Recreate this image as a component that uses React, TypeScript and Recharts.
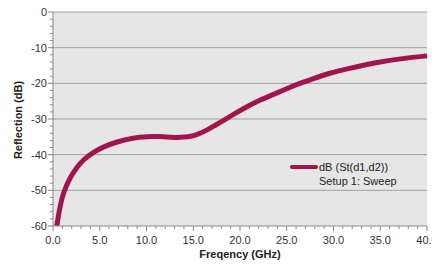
import {
    LineChart,
    Line,
    XAxis,
    YAxis,
    CartesianGrid,
    ReferenceLine,
    Legend,
    Label,
} from "recharts";

// frequency (GHz) and reflection (dB)
const freqs = [
    0.4, 0.75, 1.1, 1.8, 2.5, 3.2, 4.3, 5.4, 6.8, 8.6, 10.0, 11.5, 12.5, 13.6,
    14.6, 15.5, 16.4, 17.2, 17.9, 19.3, 20.7, 22.1, 23.6, 25.0, 26.4, 27.8,
    29.6, 31.5, 33.2, 35.0, 36.8, 38.4, 40.0,
];
const reflection = [
    -60, -54.4, -50.7, -46.5, -43.7, -41.5, -39.3, -37.8, -36.4, -35.3, -34.9,
    -34.9, -35.1, -35.2, -35.0, -34.3, -33.2, -32.0, -30.9, -28.7, -26.6,
    -24.7, -23.1, -21.5, -20.0, -18.7, -17.1, -15.9, -14.9, -14.0, -13.25,
    -12.7, -12.3,
];

const yMajor = [0, -10, -20, -30, -40, -50, -60];
const yMinor = Array.from({ length: 31 }, (_, i) => -i * 2);
const xMinor = Array.from({ length: 41 }, (_, i) => i);

const seriesName = "dB (St(d1,d2))";
const seriesSub = "Setup 1: Sweep";

const data = freqs.map((f, i) => ({ f, db: reflection[i] }));

const LINE = "#a3144f";
const FONT = "'Liberation Sans', Arial, sans-serif";

function YTick(props: any) {
    const { x, y, payload } = props;
    const major = payload.value % 10 === 0;
    return (
        <g>
            <line
                x1={x - (major ? 5 : 3)}
                x2={x}
                y1={y}
                y2={y}
                stroke="#888"
            />
            {major && (
                <text
                    x={x - 6}
                    y={y + 4}
                    textAnchor="end"
                    fontSize={11}
                    fill="#333"
                    fontFamily={FONT}
                >
                    {payload.value}
                </text>
            )}
        </g>
    );
}

function XTick(props: any) {
    const { x, y, payload } = props;
    const major = payload.value % 5 === 0;
    return (
        <g>
            <line
                x1={x}
                x2={x}
                y1={y}
                y2={y + (major ? 5 : 3)}
                stroke="#888"
            />
            {major && (
                <text
                    x={x}
                    y={y + 18}
                    textAnchor="middle"
                    fontSize={11}
                    fill="#333"
                    fontFamily={FONT}
                >
                    {payload.value.toFixed(1)}
                </text>
            )}
        </g>
    );
}

function LegendBox() {
    return (
        <div style={{ fontFamily: FONT, fontSize: 11, color: "#222", lineHeight: "14px" }}>
            <div style={{ display: "flex", alignItems: "center" }}>
                <span
                    style={{
                        display: "inline-block",
                        width: 28,
                        height: 4,
                        borderRadius: 2,
                        background: LINE,
                        marginRight: 1,
                    }}
                />
                <span>{seriesName}</span>
            </div>
            <div style={{ paddingLeft: 29 }}>{seriesSub}</div>
        </div>
    );
}

export default function App() {
    return (
        <div style={{ position: "fixed", left: 0, top: 0, background: "#fff" }}>
            <LineChart
                width={432}
                height={266}
                data={data}
                margin={{ top: 12, right: 5, bottom: 0, left: 0 }}
            >
                <CartesianGrid
                    fill="#e6e6e6"
                    horizontal={false}
                    vertical={false}
                />
                {yMajor.slice(0, -1).map((v) => (
                    <ReferenceLine
                        key={v}
                        y={v}
                        stroke="#a0a0a0"
                        strokeWidth={1}
                    />
                ))}
                <XAxis
                    dataKey="f"
                    type="number"
                    domain={[0, 40]}
                    ticks={xMinor}
                    interval={0}
                    height={40}
                    tickSize={0}
                    tickMargin={0}
                    tickLine={false}
                    stroke="#888"
                    tick={<XTick />}
                >
                    <Label
                        content={() => (
                            <text
                                x={240}
                                y={258}
                                textAnchor="middle"
                                fontSize={11}
                                fontWeight="bold"
                                fill="#222"
                                fontFamily={FONT}
                            >
                                Freqency (GHz)
                            </text>
                        )}
                    />
                </XAxis>
                <YAxis
                    type="number"
                    domain={[-60, 0]}
                    ticks={yMinor}
                    interval={0}
                    width={53}
                    tickSize={0}
                    tickMargin={0}
                    tickLine={false}
                    stroke="#888"
                    tick={<YTick />}
                    allowDataOverflow
                >
                    <Label
                        content={() => (
                            <text
                                x={22}
                                y={120}
                                transform="rotate(-90 22 120)"
                                textAnchor="middle"
                                fontSize={11}
                                fontWeight="bold"
                                fill="#222"
                                fontFamily={FONT}
                            >
                                Reflection (dB)
                            </text>
                        )}
                    />
                </YAxis>
                <Legend
                    layout="vertical"
                    align="center"
                    verticalAlign="middle"
                    content={<LegendBox />}
                    wrapperStyle={{ position: "absolute", left: 290, top: 160, width: 140 }}
                />
                <Line
                    type="basis"
                    dataKey="db"
                    name={seriesName}
                    stroke={LINE}
                    strokeWidth={5}
                    dot={false}
                    isAnimationActive={false}
                />
            </LineChart>
        </div>
    );
}
